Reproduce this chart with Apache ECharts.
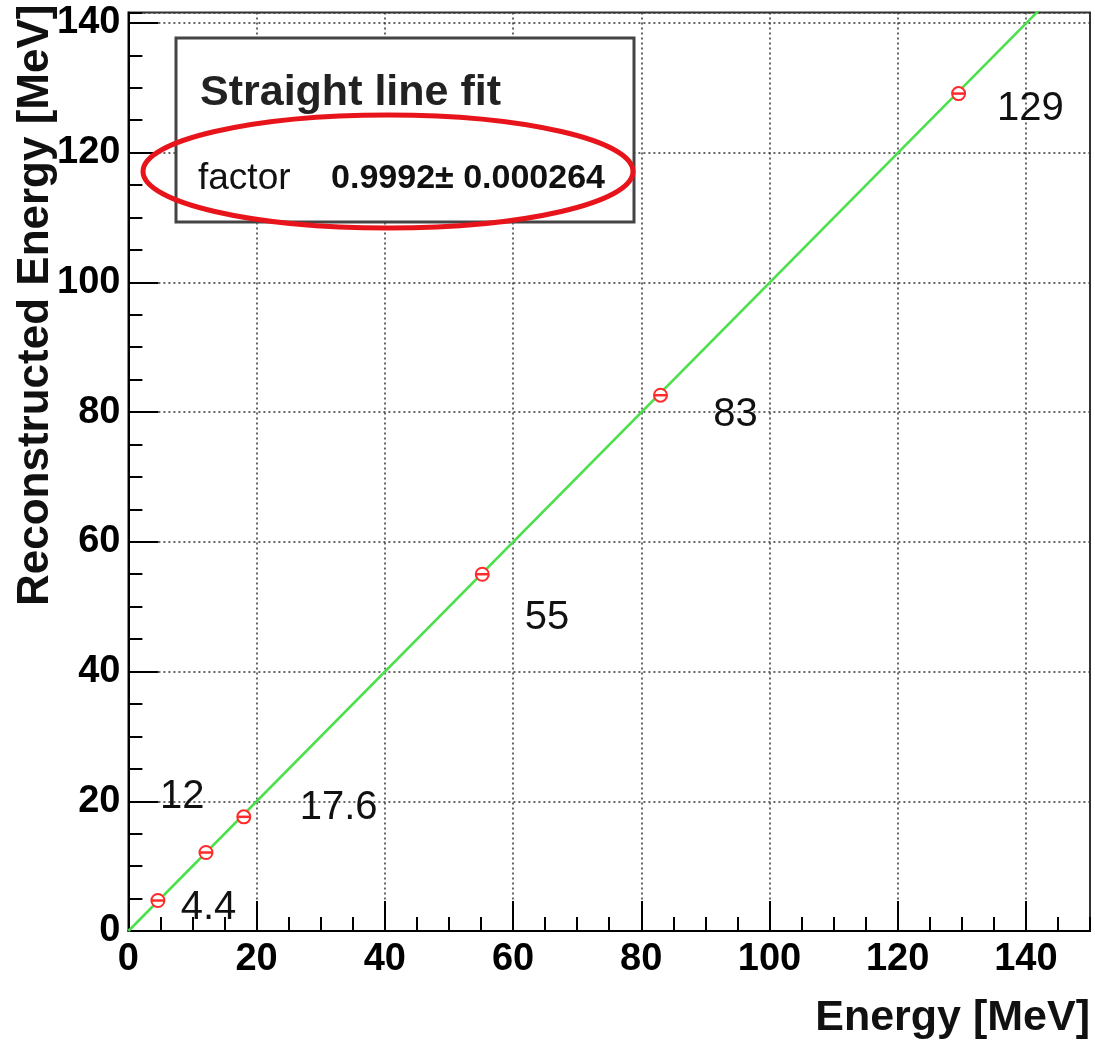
<!DOCTYPE html>
<html>
<head>
<meta charset="utf-8">
<script src="https://cdn.jsdelivr.net/npm/echarts@6/dist/echarts.min.js"></script>
<style>
html,body{margin:0;padding:0;background:#fff;}
#chart{width:1095px;height:1041px;}
</style>
</head>
<body>
<div id="chart"></div>
<script>
// Measured points (true energy vs reconstructed energy, MeV)
const pointX = [4.6, 12.1, 18.0, 55.2, 83.0, 129.5];
const pointY = [4.7, 12.1, 17.6, 55.0, 82.6, 129.1];
// Annotation labels (text and where it sits, in data coordinates)
const labelText = ['4.4', '12', '17.6', '55', '83', '129'];
const labelX = [12.5, 8.4, 32.8, 65.3, 94.7, 140.7];
const labelY = [3.6, 20.6, 19.0, 48.2, 79.6, 126.7];
// Straight line fit endpoints
const fitX = [0, 150];
const fitY = [0, 149.9];
// Axis ranges and ticks
const xRange = [0, 150];
const yRange = [0, 141.6];
const majorStep = 20;
const minorStep = 5;
const fitTitle = 'Straight line fit';
const fitParName = 'factor';
const fitParValue = '0.9992\u00b1 0.000264';

const chart = echarts.init(document.getElementById('chart'));
const FONT = '"Liberation Sans", Arial, Helvetica, sans-serif';

const majorAxisCommon = {
  axisLine: {show: true, onZero: false, lineStyle: {color: '#000', width: 2}},
  axisTick: {show: true, inside: true, length: 30, lineStyle: {color: '#000', width: 2}},
  axisLabel: {show: true, color: '#000', fontFamily: FONT, fontWeight: 'bold', fontSize: 38, showMaxLabel: false},
  splitLine: {show: true, lineStyle: {color: '#333', width: 1.5, type: [2, 3]}},
  minorTick: {show: false}
};
const minorAxisCommon = {
  axisLine: {show: false},
  axisTick: {show: true, inside: true, length: 14, lineStyle: {color: '#000', width: 2}},
  axisLabel: {show: false},
  splitLine: {show: false}
};

const option = {
  backgroundColor: '#fff',
  animation: false,
  grid: {left: 128.4, right: 5, top: 12.5, bottom: 110, show: true, borderColor: '#333', borderWidth: 2, containLabel: false},
  xAxis: [
    Object.assign({type: 'value', min: xRange[0], max: xRange[1], interval: majorStep, position: 'bottom'}, majorAxisCommon,
      {axisLabel: Object.assign({}, majorAxisCommon.axisLabel, {margin: 10})}),
    Object.assign({type: 'value', min: xRange[0], max: xRange[1], interval: minorStep, position: 'bottom'}, minorAxisCommon)
  ],
  yAxis: [
    Object.assign({type: 'value', min: yRange[0], max: yRange[1], interval: majorStep, position: 'left'}, majorAxisCommon,
      {axisLabel: Object.assign({}, majorAxisCommon.axisLabel, {margin: 8})}),
    Object.assign({type: 'value', min: yRange[0], max: yRange[1], interval: minorStep, position: 'left'}, minorAxisCommon)
  ],
  series: [
    {
      type: 'line',
      data: fitX.map((x, i) => [x, fitY[i]]),
      showSymbol: false,
      symbol: 'none',
      clip: true,
      lineStyle: {color: '#4ae04a', width: 2.5},
      z: 3
    },
    {
      type: 'scatter',
      data: pointX.map((x, i) => [x, pointY[i]]),
      symbol: 'emptyCircle',
      symbolSize: 13,
      itemStyle: {color: '#ff2a2a', borderColor: '#ff2a2a', borderWidth: 3, opacity: 1},
      z: 4
    },
    {
      type: 'scatter',
      data: pointX.map((x, i) => [x, pointY[i]]),
      symbol: 'rect',
      symbolSize: [13, 2.5],
      itemStyle: {color: '#ff2a2a', opacity: 1},
      z: 4
    },
    {
      type: 'scatter',
      data: labelX.map((x, i) => ({value: [x, labelY[i]], name: labelText[i]})),
      symbolSize: 1,
      itemStyle: {color: 'rgba(255,255,255,0)', opacity: 1},
      label: {show: true, position: 'inside', formatter: p => p.name, color: '#111', opacity: 1,
        textBorderWidth: 0, fontFamily: FONT, fontSize: 40},
      z: 5
    }
  ],
  graphic: [
    {
      type: 'rect', z: 100,
      shape: {x: 176, y: 38, width: 458, height: 184},
      style: {fill: '#fff', stroke: '#444', lineWidth: 3}
    },
    {
      type: 'text', z: 101, x: 200, y: 93,
      style: {text: fitTitle, font: 'bold 43px ' + FONT, fill: '#222', align: 'left', verticalAlign: 'middle'}
    },
    {
      type: 'text', z: 101, x: 198, y: 179,
      style: {text: fitParName, font: '37px ' + FONT, fill: '#111', align: 'left', verticalAlign: 'middle'}
    },
    {
      type: 'text', z: 101, x: 605, y: 179,
      style: {text: fitParValue, font: 'bold 34px ' + FONT, fill: '#111', align: 'right', verticalAlign: 'middle'}
    },
    {
      type: 'ellipse', z: 102,
      shape: {cx: 388, cy: 171.5, rx: 245, ry: 56.5},
      style: {fill: 'none', stroke: '#e8141b', lineWidth: 5}
    },
    {
      type: 'text', z: 101, x: 1090, y: 1018,
      style: {text: 'Energy [MeV]', font: 'bold 43px ' + FONT, fill: '#111', align: 'right', verticalAlign: 'middle'}
    },
    {
      type: 'text', z: 101, x: 36, y: 606, rotation: Math.PI / 2,
      style: {text: 'Reconstructed Energy [MeV]', font: 'bold 44px ' + FONT, fill: '#111', align: 'left', verticalAlign: 'middle'}
    }
  ]
};
chart.setOption(option);
</script>
</body>
</html>
